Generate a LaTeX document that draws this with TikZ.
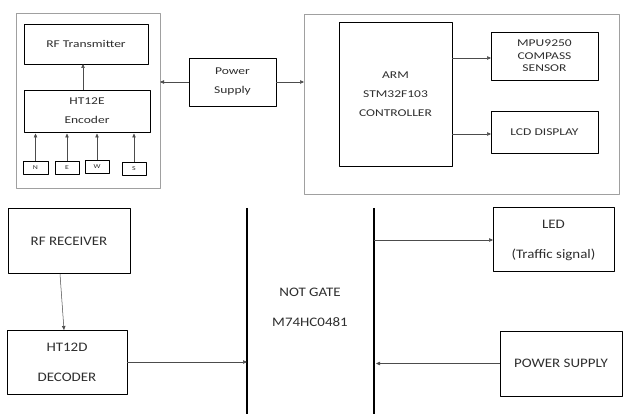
\documentclass[tikz,border=0pt]{standalone}
\usepackage{fontspec}
\setmainfont{Carlito}
\newfontfamily\topfont[FakeStretch=1.3]{Carlito}
\newfontfamily\botfont[FakeStretch=1.15]{Carlito}
\usetikzlibrary{arrows.meta,positioning}
\definecolor{txtgray}{HTML}{2E2E2E}
\definecolor{framegray}{HTML}{A0A0A0}

\begin{document}
\begin{tikzpicture}[x=1pt, y=-1pt, >={Triangle[length=4pt,width=3.5pt]}, line join=round,
  blk/.style={draw=black, line width=0.9pt, inner sep=0pt, outer sep=0pt, align=center, text=txtgray},
  frame/.style={draw=framegray, line width=0.8pt, inner sep=0pt, outer sep=0pt},
  topblk/.style={blk, font=\topfont\fontsize{10.4}{19}\selectfont},
  keyblk/.style={blk, line width=0.8pt, font=\topfont\fontsize{6}{7}\selectfont},
  botblk/.style={blk, line width=1pt, font=\botfont\fontsize{13}{30}\selectfont},
  link/.style={->, draw=black!70, line width=0.5pt},
  bus/.style={draw=black, line width=1.1pt}]
  \useasboundingbox (0,0) rectangle (635,414);

  % transmitter side
  \node[frame, minimum width=144pt, minimum height=175pt] (leftbox) at (88,100.5) {};
  \node[topblk, minimum width=124pt, minimum height=40pt] (tx) at (86,44) {RF Transmitter};
  \node[topblk, minimum width=126pt, minimum height=42pt] (enc) at (87,111) {HT12E\\Encoder};
  \node[keyblk, minimum width=25pt, minimum height=13pt] (n) at (35.5,167.5) {N};
  \node[keyblk, minimum width=24pt, minimum height=13pt] (e) at (67,167.5) {E};
  \node[keyblk, minimum width=24pt, minimum height=13pt] (w) at (97,166.5) {W};
  \node[keyblk, minimum width=24pt, minimum height=13pt] (s) at (134,168.5) {S};

  \draw[link] ([xshift=-4pt]enc.north) -- ([xshift=-4pt]enc.north |- tx.south);
  \foreach \k in {n,e,w,s}
    \draw[link, shorten >=1.5pt] (\k.north) -- (\k.north |- enc.south);

  % controller side
  \node[frame, minimum width=315pt, minimum height=180pt] (rightbox) at (461.5,104) {};
  \node[topblk, minimum width=113pt, minimum height=144pt] (arm) at (395.5,94) {ARM\\STM32F103\\CONTROLLER};
  \node[topblk, minimum width=107pt, minimum height=48pt, font=\topfont\fontsize{10.4}{12.5}\selectfont] (mpu) at (544.5,56) {MPU9250\\COMPASS\\SENSOR};
  \node[topblk, minimum width=107pt, minimum height=42pt] (lcd) at (544.5,132) {LCD DISPLAY};
  \draw[link] ([yshift=-2pt]mpu.west -| arm.east) -- ([yshift=-2pt]mpu.west);
  \draw[link] ([yshift=-2pt]lcd.west -| arm.east) -- ([yshift=-2pt]lcd.west);

  % power supply
  \node[topblk, minimum width=87pt, minimum height=48pt] (ps) at (232.5,82) {Power\\Supply};
  \draw[link] (ps.west) -- (ps.west -| leftbox.east);
  \draw[link] (ps.east) -- (ps.east -| rightbox.west);

  % receiver side
  \node[botblk, minimum width=122pt, minimum height=65pt] (rx) at (69,241.5) {RF RECEIVER};
  \node[botblk, minimum width=120pt, minimum height=64pt] (dec) at (67,362) {HT12D\\DECODER};
  \draw[link] ([xshift=-9pt]rx.south) -- ([xshift=-3pt]dec.north);

  % not gate
  \coordinate (b1top) at (247,208);
  \coordinate (b1bot) at (247,414);
  \coordinate (b2top) at (374,208);
  \coordinate (b2bot) at (374,414);
  \draw[bus] (b1top) -- (b1bot);
  \draw[bus] (b2top) -- (b2bot);
  \node[align=center, text=txtgray, font=\botfont\fontsize{13}{30}\selectfont] (gate) at (310,307) {NOT GATE\\M74HC0481};
  \draw[link] (dec.east) -- (dec.east -| b1top);

  % outputs
  \node[botblk, minimum width=121pt, minimum height=64pt] (led) at (553.5,240) {LED\\(Traffic signal)};
  \node[botblk, minimum width=122pt, minimum height=65pt] (pwr) at (561,363.5) {POWER SUPPLY};
  \draw[link] (led.west -| b2top) -- (led.west);
  \draw[link] (pwr.west) -- ([xshift=2pt]pwr.west -| b2top);
\end{tikzpicture}
\end{document}
